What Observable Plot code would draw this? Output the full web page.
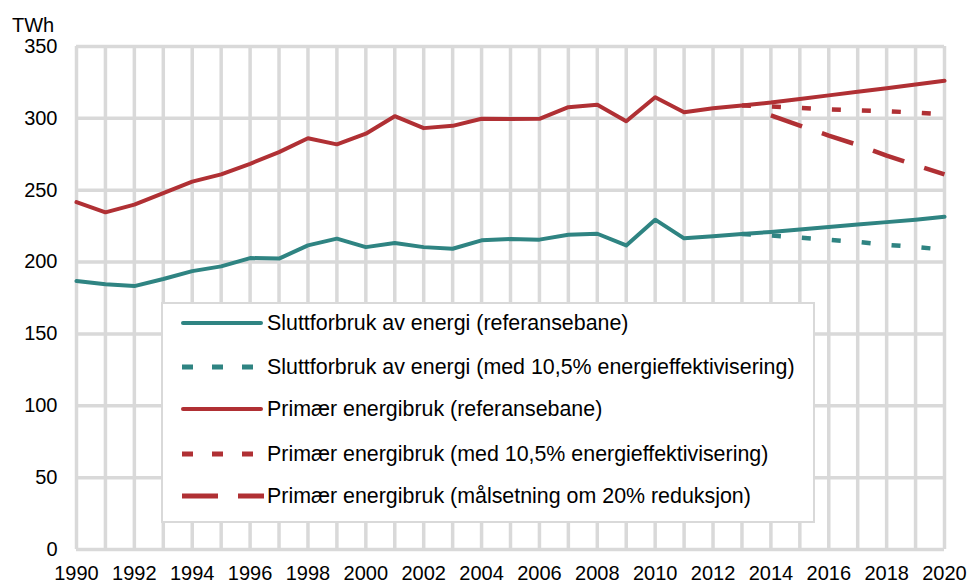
<!DOCTYPE html>
<html>
<head>
<meta charset="utf-8">
<script src="https://cdn.jsdelivr.net/npm/d3@7"></script>
<script src="https://cdn.jsdelivr.net/npm/@observablehq/plot@0.6"></script>
<style>
  body { margin: 0; background: #fff; font-family: "Liberation Sans", Arial, sans-serif; }
  #wrap { position: relative; width: 970px; height: 584px; }
  #unit { position: absolute; left: 12px; top: 14px; font-size: 20px; color: #000; }
  #legend { position: absolute; left: 161px; top: 302px; width: 650px; height: 217px;
            background: #fff; border: 2px solid #d9d9d9; box-sizing: content-box; }
  .row { position: absolute; left: 0; height: 30px; display: flex; align-items: center; }
  .row svg { margin-left: 17px; }
  .row span { font-size: 21.4px; margin-left: 3px; color: #000; white-space: nowrap; }
</style>
</head>
<body>
<div id="wrap">
  <div id="chart"></div>
  <div id="unit">TWh</div>
  <div id="legend"></div>
</div>
<script>
const TEAL = "#2f8482";
const RED = "#b03034";

// Historical + reference path years
const years = [1990,1991,1992,1993,1994,1995,1996,1997,1998,1999,2000,2001,2002,2003,2004,2005,2006,2007,2008,2009,2010,2011,2012,2013,2014,2015,2016,2017,2018,2019,2020];
const sluttRef = [186.8,184.5,183.3,188.2,193.7,197,202.8,202.4,211.6,216.3,210.4,213.2,210.4,209.3,215.1,216,215.6,219,219.7,211.6,229.5,216.5,218,219.5,221,222.7,224.4,226.1,227.8,229.5,231.5];
const primRef = [241.7,234.6,240,248,256,261,268.4,276.5,286.2,281.9,289.3,301.5,293.2,294.8,299.7,299.5,299.7,307.8,309.5,298,314.7,304.3,307,309,311,313.5,316,318.5,321,323.5,326.2];

// Scenario years
const effYears = [2013,2014,2015,2016,2017,2018,2019,2020];
const sluttEff = [219.5,218.5,217,215.5,214,212,210.5,208.6];
const primEff = [309,308.3,307.2,306.3,305.6,305,304,302.8];
const maalYears = [2014,2015,2016,2017,2018,2019,2020];
const primMaal = [302,295,288,281.5,274,267.5,261];

const xTicks = [1990,1992,1994,1996,1998,2000,2002,2004,2006,2008,2010,2012,2014,2016,2018,2020];
const yTicks = [0,50,100,150,200,250,300,350];

const seriesNames = [
  "Sluttforbruk av energi (referansebane)",
  "Sluttforbruk av energi (med 10,5% energieffektivisering)",
  "Primær energibruk (referansebane)",
  "Primær energibruk (med 10,5% energieffektivisering)",
  "Primær energibruk (målsetning om 20% reduksjon)"
];

const toRows = (xs, vs) => xs.map((x, i) => ({x, v: vs[i]}));

const plot = Plot.plot({
  width: 970,
  height: 584,
  marginLeft: 76,
  marginRight: 26,
  marginTop: 46,
  marginBottom: 35,
  style: { fontFamily: "'Liberation Sans', Arial, sans-serif", fontSize: "20px", color: "#000", background: "#fff" },
  x: { domain: [1990, 2020], label: null },
  y: { domain: [0, 350], label: null },
  marks: [
    Plot.ruleX(years, { x: d => d, stroke: "#d9d9d9", strokeWidth: 3.5 }),
    Plot.ruleY(yTicks, { y: d => d, stroke: "#d9d9d9", strokeWidth: 3.5 }),
    Plot.axisX(xTicks, { tickSize: 0, tickPadding: 16, fontSize: 20, label: null, tickFormat: d => String(d) }),
    Plot.axisY(yTicks, { tickSize: 0, tickPadding: 19, fontSize: 20, label: null, tickFormat: d => String(d) }),
    Plot.line(toRows(years, sluttRef), { x: "x", y: "v", stroke: TEAL, strokeWidth: 4 }),
    Plot.line(toRows(effYears, sluttEff), { x: "x", y: "v", stroke: TEAL, strokeWidth: 4.5, strokeDasharray: "9,21", strokeLinecap: "butt" }),
    Plot.line(toRows(years, primRef), { x: "x", y: "v", stroke: RED, strokeWidth: 4 }),
    Plot.line(toRows(effYears, primEff), { x: "x", y: "v", stroke: RED, strokeWidth: 4.5, strokeDasharray: "9,21", strokeLinecap: "butt" }),
    Plot.line(toRows(maalYears, primMaal), { x: "x", y: "v", stroke: RED, strokeWidth: 4.5, strokeDasharray: "33,21", strokeLinecap: "butt" })
  ]
});
document.getElementById("chart").appendChild(plot);

// Legend
const legendStyles = [
  { color: TEAL, dash: null },
  { color: TEAL, dash: "11,19" },
  { color: RED, dash: null },
  { color: RED, dash: "11,19" },
  { color: RED, dash: "36,20" }
];
const rowTops = [4, 48, 90, 135, 177];
const legend = document.getElementById("legend");
seriesNames.forEach((name, i) => {
  const s = legendStyles[i];
  const row = document.createElement("div");
  row.className = "row";
  row.style.top = rowTops[i] + "px";
  const dashAttr = s.dash ? `stroke-dasharray="${s.dash}" stroke-linecap="butt"` : `stroke-linecap="round"`;
  row.innerHTML = `<svg width="84" height="10"><line x1="${s.dash ? 2 : 3}" y1="5" x2="${s.dash ? 84 : 81}" y2="5" stroke="${s.color}" stroke-width="${s.dash ? 5 : 4}" ${dashAttr}/></svg><span>${name}</span>`;
  legend.appendChild(row);
});
</script>
</body>
</html>
